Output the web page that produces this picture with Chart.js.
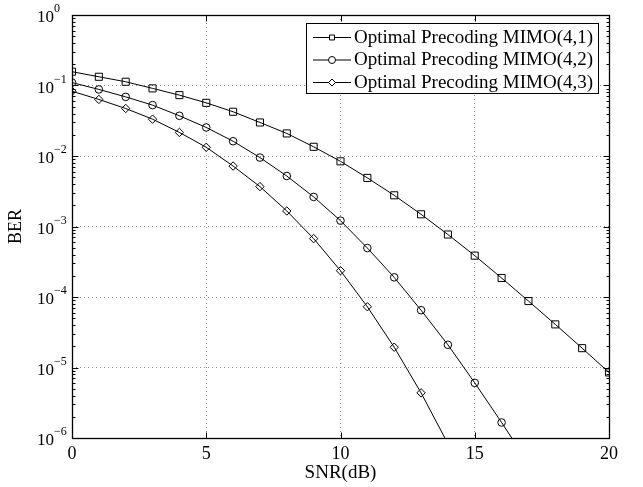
<!DOCTYPE html>
<html>
<head>
<meta charset="utf-8">
<script src="https://cdn.jsdelivr.net/npm/chart.js@4.4.1/dist/chart.umd.min.js"></script>
<style>
  html, body { margin: 0; padding: 0; background: #fff; }
  #wrap { width: 643px; height: 487px; }
</style>
</head>
<body>
<div id="wrap"><canvas id="grafico" width="643" height="487"></canvas></div>
<script>
// dados
const snr = [0, 1, 2, 3, 4, 5, 6, 7, 8, 9, 10, 11, 12, 13, 14, 15, 16, 17, 18, 19, 20];
const berMimo41 = [0.157, 0.133, 0.113, 0.091, 0.073, 0.0568, 0.0424, 0.0299, 0.0209, 0.0135, 0.0084,
  0.00489, 0.00277, 0.00149, 0.00077, 0.000386, 0.000186, 8.76e-5, 4.09e-5, 1.88e-5, 8.5e-6];
const berMimo42 = [0.11, 0.088, 0.069, 0.0527, 0.0372, 0.0254, 0.0162, 0.0095, 0.0052, 0.00263, 0.00121,
  0.000495, 0.00019, 6.5e-5, 2.1e-5, 6.05e-6, 1.66e-6, 4.35e-7];
const berMimo43 = [0.083, 0.0634, 0.0472, 0.0333, 0.0216, 0.0133, 0.0072, 0.00368, 0.00166, 0.000673,
  0.000236, 7.27e-5, 1.94e-5, 4.37e-6, 8.3e-7];
const legendas = ['Optimal Precoding MIMO(4,1)', 'Optimal Precoding MIMO(4,2)', 'Optimal Precoding MIMO(4,3)'];
const xTicks = [0, 5, 10, 15, 20];
const yDecadas = [-6, -5, -4, -3, -2, -1, 0];

const FONTE = '"Liberation Serif", "Times New Roman", serif';

function serie(valores, label, estilo, raio) {
  return {
    label: label,
    data: valores.map((v, i) => ({ x: snr[i], y: v })),
    borderColor: '#000',
    borderWidth: 1,
    backgroundColor: 'rgba(0,0,0,0)',
    pointStyle: estilo,
    pointRadius: raio,
    pointHoverRadius: raio,
    pointBorderColor: '#000',
    pointBorderWidth: 1,
    pointBackgroundColor: 'rgba(0,0,0,0)',
    tension: 0
  };
}

// moldura, marcas internas, rótulos 10^n e legenda
const molduraPlugin = {
  id: 'moldura',
  afterDraw(chart) {
    const ctx = chart.ctx;
    const a = chart.chartArea;
    const sx = chart.scales.x, sy = chart.scales.y;
    const L = Math.round(a.left) + 0.5, R = Math.round(a.right) + 0.5;
    const T = Math.round(a.top) + 0.5, B = Math.round(a.bottom) + 0.5;
    ctx.save();
    ctx.strokeStyle = '#000';
    ctx.lineWidth = 1;
    ctx.beginPath();
    for (let d = -6; d < 0; d++) {
      for (let k = 2; k <= 9; k++) {
        const yy = Math.round(sy.getPixelForValue(k * Math.pow(10, d))) + 0.5;
        ctx.moveTo(L, yy); ctx.lineTo(L + 3, yy);
        ctx.moveTo(R, yy); ctx.lineTo(R - 3, yy);
      }
    }
    yDecadas.forEach(d => {
      const yy = Math.round(sy.getPixelForValue(Math.pow(10, d))) + 0.5;
      ctx.moveTo(L, yy); ctx.lineTo(L + 6, yy);
      ctx.moveTo(R, yy); ctx.lineTo(R - 6, yy);
    });
    xTicks.forEach(v => {
      const xx = Math.round(sx.getPixelForValue(v)) + 0.5;
      ctx.moveTo(xx, B); ctx.lineTo(xx, B - 6);
      ctx.moveTo(xx, T); ctx.lineTo(xx, T + 6);
    });
    ctx.stroke();
    ctx.lineWidth = 1.3;
    ctx.strokeRect(L, T, R - L, B - T);

    // rótulos do eixo y
    ctx.fillStyle = '#000';
    ctx.textBaseline = 'alphabetic';
    ctx.textAlign = 'left';
    yDecadas.forEach(d => {
      const yy = sy.getPixelForValue(Math.pow(10, d));
      ctx.font = '17px ' + FONTE;
      ctx.fillText('10', 37, yy + 7);
      ctx.font = '12px ' + FONTE;
      ctx.fillText(d === 0 ? '0' : '\u2212' + (-d), 54, yy - 3);
    });

    // legenda
    const bx = 306.5, by = 23.5, bw = 292, bh = 70;
    ctx.fillStyle = '#fff';
    ctx.fillRect(bx, by, bw, bh);
    ctx.lineWidth = 1;
    ctx.strokeRect(bx, by, bw, bh);
    const estilos = ['rect', 'circle', 'rectRot'];
    legendas.forEach((txt, i) => {
      const ly = 37 + i * 22.5;
      ctx.strokeStyle = '#000';
      ctx.beginPath();
      ctx.moveTo(313, ly + 0.5); ctx.lineTo(351, ly + 0.5);
      ctx.stroke();
      ctx.fillStyle = '#fff';
      Chart.helpers.drawPoint(ctx, { pointStyle: estilos[i], radius: 3.5, borderWidth: 1, rotation: 0 }, 332, ly + 0.5);
      ctx.fillStyle = '#000';
      ctx.font = '19px ' + FONTE;
      ctx.textBaseline = 'middle';
      ctx.fillText(txt, 354, ly + 1);
    });
    ctx.restore();
  }
};

const ctx = document.getElementById('grafico').getContext('2d');
const grafico = new Chart(ctx, {
  type: 'line',
  data: {
    datasets: [
      serie(berMimo41, legendas[0], 'rect', 5),
      serie(berMimo42, legendas[1], 'circle', 3.8),
      serie(berMimo43, legendas[2], 'rectRot', 4.2)
    ]
  },
  options: {
    responsive: false,
    animation: false,
    events: [],
    layout: { padding: { top: 15, right: 34, left: 0, bottom: 0 } },
    plugins: {
      legend: { display: false },
      tooltip: { enabled: false }
    },
    scales: {
      x: {
        type: 'linear',
        min: 0,
        max: 20,
        afterBuildTicks: s => { s.ticks = xTicks.map(v => ({ value: v })); },
        afterFit: s => { s.height = 49; },
        grid: { color: '#8a8a8a', lineWidth: 1, drawTicks: false },
        border: { display: false, dash: [1, 3] },
        ticks: { color: '#000', font: { family: FONTE, size: 18 }, padding: 5, maxRotation: 0 },
        title: { display: true, text: 'SNR(dB)', color: '#000', font: { family: FONTE, size: 19 }, padding: { top: 0, bottom: 3 } }
      },
      y: {
        type: 'logarithmic',
        min: 1e-6,
        max: 1,
        afterBuildTicks: s => { s.ticks = yDecadas.map(d => ({ value: Math.pow(10, d) })); },
        afterFit: s => { s.width = 72; },
        grid: { color: '#8a8a8a', lineWidth: 1, drawTicks: false },
        border: { display: false, dash: [1, 3] },
        ticks: { callback: () => '', padding: 0 },
        title: { display: true, text: 'BER', color: '#000', font: { family: FONTE, size: 18 }, padding: { top: 5, bottom: 0 } }
      }
    }
  },
  plugins: [molduraPlugin]
});
</script>
</body>
</html>
